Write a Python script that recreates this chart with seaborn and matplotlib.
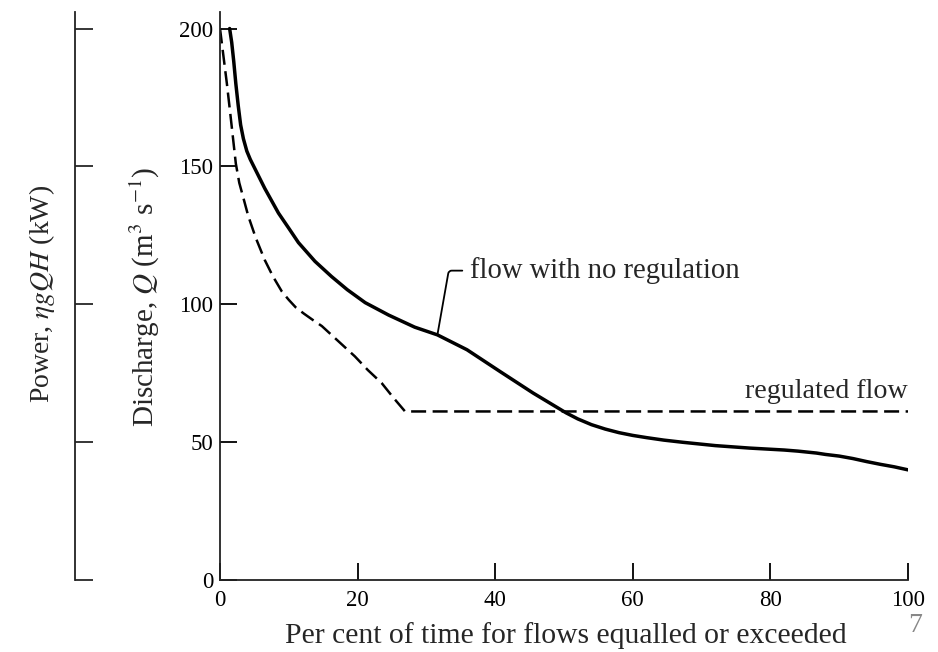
import matplotlib
matplotlib.use("Agg")
import matplotlib.pyplot as plt
import seaborn as sns
import pandas as pd

# ---- data ----
unreg_pct = [1.4, 1.7, 2.0, 2.3, 2.65, 3.0, 3.4, 3.9, 4.4, 5.0, 5.5, 6.5, 7.5,
             8.5, 10.0, 11.4, 13.8, 16.2, 18.5, 21.1, 24.5, 28.3, 31.6, 35.9,
             40.7, 45.5, 50.3, 52.0, 54.0, 56.0, 58.0, 60.0, 62.0, 64.5, 67.3,
             72.0, 77.0, 82.0, 84.0, 86.7, 88.0, 90.0, 92.0, 94.0, 96.0, 98.0,
             100.0]
unreg_q = [200, 195, 188, 180, 172, 165, 160, 155.5, 152.5, 149.5, 147, 142,
           137.5, 133, 127.5, 122.3, 115.5, 110, 105.2, 100.5, 96, 91.6, 88.8,
           83.4, 75.5, 67.7, 60.5, 58.3, 56.2, 54.6, 53.3, 52.3, 51.5, 50.6,
           49.8, 48.6, 47.7, 47.0, 46.6, 45.9, 45.4, 44.8, 43.9, 42.8, 41.8,
           40.9, 39.8]

reg_pct = [0.0, 0.5, 1.0, 1.5, 1.9, 2.3, 2.8, 3.4, 4.1, 5.2, 6.5, 7.7, 9.0,
           10.0, 11.0, 12.2, 13.5, 14.8, 17.2, 19.6, 21.5, 23.5, 25.2, 26.9,
           100.0]
reg_q = [200, 190, 180, 169, 160, 151, 144, 138.5, 132, 124, 116, 110, 104.5,
         101.5, 98.8, 96.5, 94.2, 92, 86.5, 81, 76, 71.3, 66, 61, 61]

x_ticks = [0, 20, 40, 60, 80, 100]
y_ticks = [0, 50, 100, 150, 200]

df_unreg = pd.DataFrame({"pct": unreg_pct, "q": unreg_q})
df_reg = pd.DataFrame({"pct": reg_pct, "q": reg_q})

sns.set_style("ticks")
plt.rcParams["font.family"] = ["Liberation Serif", "DejaVu Serif"]
plt.rcParams["mathtext.fontset"] = "stix"

fig = plt.figure(figsize=(9.38, 6.52), dpi=100)
ax = fig.add_axes([220 / 938, 1 - 579.5 / 652, 688 / 938, 567.5 / 652])

sns.lineplot(data=df_unreg, x="pct", y="q", ax=ax, color="black", lw=2.5,
             estimator=None, sort=False)
sns.lineplot(data=df_reg, x="pct", y="q", ax=ax, color="black", lw=1.8,
             linestyle=(0, (6, 2.6)), estimator=None, sort=False)

ax.set_xlim(0, 100)
ax.set_ylim(0, 206)
ax.set_xticks(x_ticks)
ax.set_yticks(y_ticks)
ax.set_xlabel("")
ax.set_ylabel("")
sns.despine(ax=ax)
for s in ("left", "bottom"):
    ax.spines[s].set_linewidth(1.3)
    ax.spines[s].set_color("#222222")
ax.tick_params(axis="both", direction="in", length=12, width=1.3,
               labelsize=16.5, colors="black")
ax.tick_params(axis="x", pad=7.5)
ax.tick_params(axis="y", pad=5)

# power axis (no tick labels)
sec = ax.secondary_yaxis((75 - 220) / 688)
sec.set_yticks(y_ticks)
sec.set_yticklabels([])
sec.tick_params(direction="in", length=13, width=1.3)
sec.spines["left"].set_linewidth(1.3)
sec.spines["left"].set_color("#222222")

# labels
fig.text(145 / 938, 1 - 296.5 / 652, "Discharge, $Q$ (m$^3$ s$^{-1}$)",
         rotation=90, ha="center", va="center", fontsize=21)
fig.text(42 / 938, 1 - 294 / 652, r"Power, $\eta gQH$ (kW)",
         rotation=90, ha="center", va="center", fontsize=20)
fig.text(566 / 938, 1 - 636 / 652, "Per cent of time for flows equalled or exceeded",
         ha="center", va="center", fontsize=21.3)
fig.text(915 / 938, 1 - 626 / 652, "7", ha="center", va="center",
         fontsize=20, color="#888888")

ax.annotate("flow with no regulation", xy=(31.6, 88.8), xytext=(36.3, 109.4),
            ha="left", va="baseline", fontsize=20.6,
            arrowprops=dict(arrowstyle="-", color="black", lw=1.3,
                            relpos=(0, 0.5), shrinkA=3, shrinkB=0,
                            connectionstyle="angle,angleA=0,angleB=80,rad=3"))
ax.text(100, 66, "regulated flow", ha="right", va="baseline", fontsize=20.2)

fig.savefig("out.png", dpi=100)
